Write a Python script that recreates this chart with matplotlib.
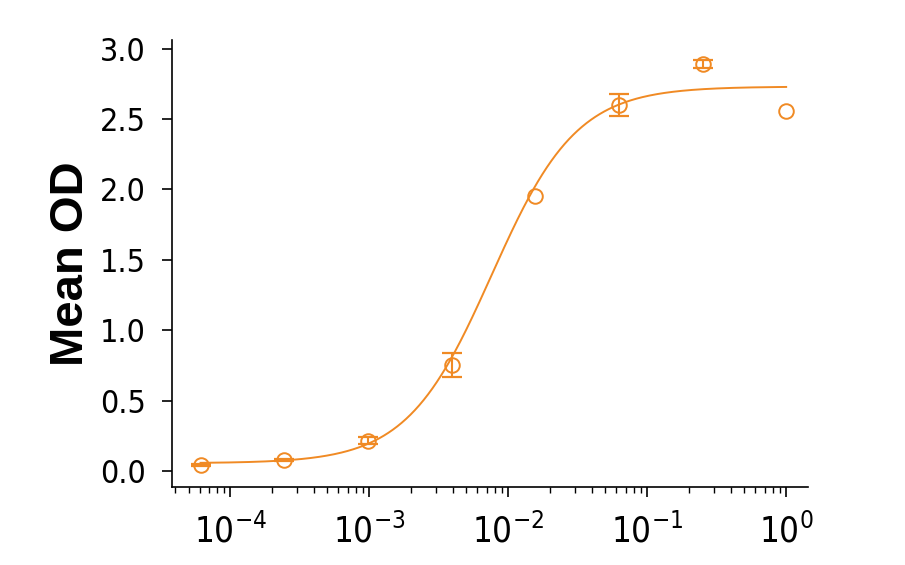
import numpy as np
import matplotlib
matplotlib.use("Agg")
import matplotlib.pyplot as plt
from matplotlib.ticker import LogLocator, NullFormatter

conc = [1/16384, 1/4096, 1/1024, 1/256, 1/64, 1/16, 1/4, 1.0]
mean_od = [0.043, 0.078, 0.215, 0.755, 1.95, 2.60, 2.89, 2.56]
err = [0.01, 0.01, 0.025, 0.085, 0.0, 0.08, 0.03, 0.0]

# 4PL fit parameters
bottom, top, ec50, hill = 0.055, 2.73, 0.0076, 1.42

plt.rcParams["font.family"] = "DejaVu Sans"
plt.rcParams["font.stretch"] = "condensed"
plt.rcParams["mathtext.default"] = "regular"

color = "#F08A24"
fig = plt.figure(figsize=(9.05, 5.65), dpi=100)
ax = fig.add_axes([0.190, 0.138, 0.703, 0.791])

xf = np.logspace(np.log10(conc[0]), 0, 400)
yf = bottom + (top - bottom) / (1 + (ec50 / xf) ** hill)
ax.plot(xf, yf, color=color, lw=1.4)

idx = [i for i, e in enumerate(err) if e > 0]
ax.errorbar([conc[i] for i in idx], [mean_od[i] for i in idx], yerr=[err[i] for i in idx],
            fmt="none", ecolor=color, capsize=7.5, elinewidth=1.5, capthick=1.6)
ax.plot(conc, mean_od, "o", mfc="none", mec=color, ms=10.5, mew=1.4)

ax.set_xscale("log")
ax.set_xlim(3.8e-5, 1.44)
ax.set_ylim(-0.114, 3.06)
ax.set_yticks([0, 0.5, 1.0, 1.5, 2.0, 2.5, 3.0])
ax.set_yticklabels([f"{v:.1f}" for v in [0, 0.5, 1.0, 1.5, 2.0, 2.5, 3.0]])
ax.xaxis.set_minor_locator(LogLocator(base=10, subs=np.arange(2, 10), numticks=20))
ax.xaxis.set_minor_formatter(NullFormatter())
ax.set_xticks([1e-4, 1e-3, 1e-2, 1e-1, 1])
ax.set_xticklabels([r"$10^{-4}$", r"$10^{-3}$", r"$10^{-2}$", r"$10^{-1}$", r"$10^{0}$"])

for s in ["top", "right"]:
    ax.spines[s].set_visible(False)
for s in ["left", "bottom"]:
    ax.spines[s].set_linewidth(1.2)

ax.tick_params(axis="both", which="major", length=7, width=1.2, direction="out")
ax.tick_params(axis="x", which="minor", length=4, width=1.0)
ax.tick_params(axis="y", pad=12)
ax.tick_params(axis="x", pad=12)
for lab in ax.get_yticklabels():
    lab.set_fontsize(23)
for lab in ax.get_xticklabels():
    lab.set_fontsize(25)

ax.set_ylabel("Mean OD", fontsize=34, fontweight="bold", family="Liberation Sans",
              fontstretch="normal", labelpad=5)

fig.savefig("out.png", dpi=100)
